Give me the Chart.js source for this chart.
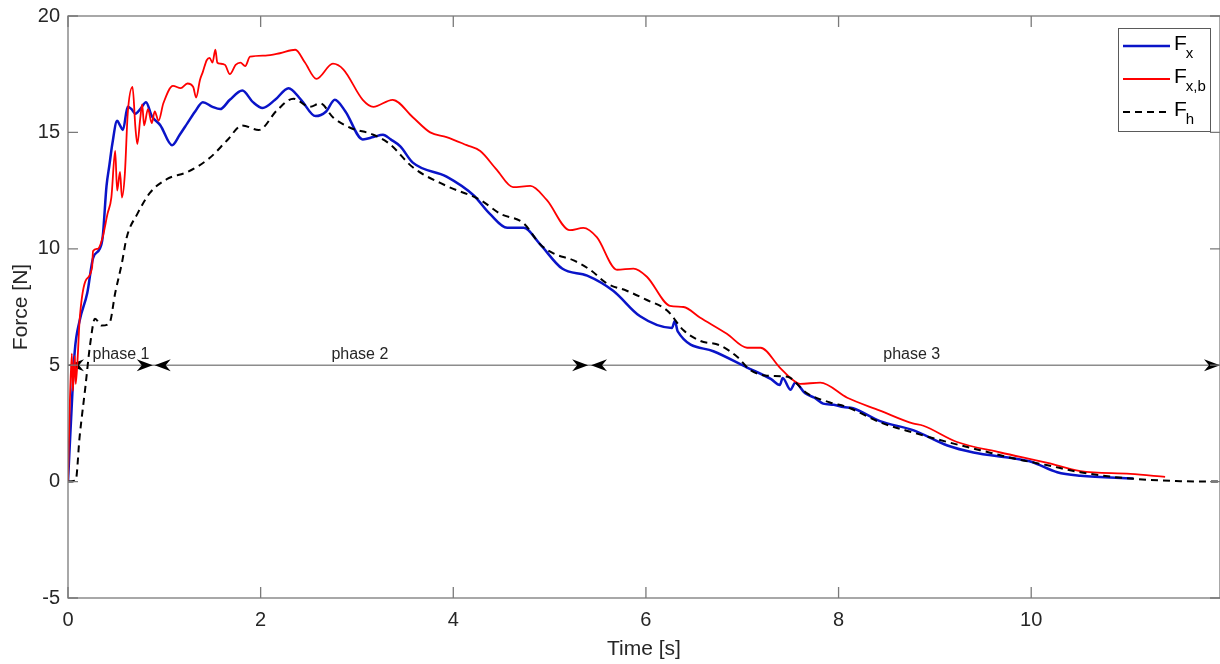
<!DOCTYPE html>
<html lang="en">
<head>
<meta charset="UTF-8">
<title>Force vs Time</title>
<script src="https://cdn.jsdelivr.net/npm/chart.js"></script>
<style>
  body { margin: 0; background: #fff; }
  #wrap { width: 1220px; height: 664px; }
</style>
</head>
<body>
<div id="wrap"><canvas id="forceChart" width="1220" height="664"></canvas></div>
<script>
  // values: time [s] and force [N]
  const tFx  = [0, 0.04, 0.07, 0.12, 0.20, 0.26, 0.33, 0.36, 0.40, 0.43, 0.46, 0.51, 0.54, 0.57, 0.62, 0.66, 0.70, 0.75, 0.81, 0.87,
                0.96, 1.08, 1.16, 1.24, 1.32, 1.40, 1.50, 1.58, 1.68, 1.81, 1.92, 2.02, 2.15, 2.29, 2.42, 2.57, 2.68, 2.77, 2.88, 3.06,
                3.17, 3.27, 3.35, 3.45, 3.58, 3.93, 4.21, 4.38, 4.56, 4.73, 4.90, 5.13, 5.39, 5.66, 5.94, 6.27, 6.30, 6.33, 6.70, 7.05,
                7.30, 7.39, 7.42, 7.50, 7.55, 7.65, 7.75, 7.84, 7.95, 8.05, 8.15, 8.43, 8.78, 9.13, 9.40, 9.81, 10.0, 10.27, 10.51, 11.06];
  const fFx  = [0, 3.35, 5.6, 6.9, 8.1, 9.6, 10.0, 10.5, 12.7, 13.6, 14.5, 15.5, 15.3, 15.1, 16.1, 16.0, 15.8, 16.0, 16.3, 15.7,
                15.3, 14.45, 14.9, 15.4, 15.9, 16.3, 16.1, 16.0, 16.4, 16.8, 16.3, 16.05, 16.4, 16.9, 16.4, 15.7, 15.9, 16.4, 15.9, 14.7,
                14.8, 14.9, 14.7, 14.4, 13.7, 13.1, 12.3, 11.5, 10.9, 10.9, 10.2, 9.15, 8.85, 8.2, 7.1, 6.6, 6.9, 6.45, 5.6, 4.9,
                4.4, 4.15, 4.45, 3.95, 4.25, 3.8, 3.6, 3.35, 3.3, 3.2, 3.15, 2.6, 2.2, 1.55, 1.25, 1.0, 0.85, 0.4, 0.25, 0.13];

  const tFxb = [0, 0.02, 0.04, 0.05, 0.07, 0.08, 0.10, 0.12, 0.18, 0.25, 0.26, 0.31, 0.36, 0.41, 0.45, 0.49, 0.51, 0.54, 0.56, 0.59,
                0.62, 0.67, 0.70, 0.72, 0.75, 0.77, 0.79, 0.83, 0.87, 0.90, 0.94, 0.99, 1.09, 1.17, 1.24, 1.30, 1.33, 1.37, 1.40, 1.44,
                1.47, 1.50, 1.53, 1.55, 1.58, 1.63, 1.68, 1.74, 1.79, 1.84, 1.89, 2.05, 2.20, 2.36, 2.46, 2.58, 2.75, 2.86, 3.06, 3.17,
                3.37, 3.58, 3.76, 3.93, 4.14, 4.28, 4.45, 4.62, 4.80, 4.97, 5.21, 5.35, 5.49, 5.70, 5.87, 6.01, 6.25, 6.39, 6.56, 6.84,
                7.05, 7.19, 7.39, 7.53, 7.60, 7.81, 8.09, 8.43, 8.77, 8.88, 9.23, 9.68, 10.17, 10.51, 11.03, 11.39];
  const fFxb = [0, 3.5, 5.5, 3.9, 5.4, 4.2, 5.3, 6.9, 8.6, 9.2, 9.9, 10.0, 10.5, 11.5, 12.2, 14.2, 12.5, 13.3, 12.2, 13.2,
                15.8, 16.95, 15.2, 14.5, 15.6, 16.2, 15.3, 16.0, 15.4, 15.9, 15.5, 16.25, 17.0, 16.9, 17.1, 16.95, 16.5, 17.25, 17.6, 18.1,
                18.2, 18.0, 18.55, 18.0, 17.95, 17.9, 17.5, 17.9, 18.0, 17.85, 18.25, 18.3, 18.4, 18.55, 18.0, 17.3, 17.95, 17.7, 16.4, 16.1,
                16.4, 15.65, 15.0, 14.8, 14.45, 14.2, 13.4, 12.65, 12.7, 12.1, 10.8, 10.9, 10.5, 9.1, 9.15, 8.8, 7.55, 7.5, 7.05, 6.35,
                5.75, 5.75, 4.9, 4.35, 4.2, 4.25, 3.6, 3.05, 2.5, 2.4, 1.7, 1.25, 0.8, 0.45, 0.33, 0.2];

  const tFh  = [0, 0.08, 0.12, 0.18, 0.23, 0.28, 0.35, 0.43, 0.49, 0.56, 0.61, 0.72, 0.85, 1.03, 1.24, 1.47, 1.65, 1.81, 1.98, 2.17,
                2.34, 2.51, 2.62, 2.75, 2.93, 3.17, 3.34, 3.58, 3.93, 4.28, 4.49, 4.73, 4.90, 5.04, 5.25, 5.42, 5.60, 5.80, 6.01, 6.22,
                6.39, 6.56, 6.77, 6.95, 7.08, 7.26, 7.47, 7.67, 7.91, 8.09, 8.43, 8.78, 9.13, 9.47, 9.81, 10.17, 10.51, 10.85, 11.20, 11.55, 11.96];
  const fFh  = [0, 0.05, 1.9, 4.05, 5.9, 7.0, 6.7, 6.8, 8.1, 9.4, 10.5, 11.5, 12.4, 13.0, 13.3, 13.9, 14.65, 15.3, 15.1, 15.95,
                16.45, 16.1, 16.25, 15.65, 15.2, 14.9, 14.5, 13.5, 12.7, 12.1, 11.5, 11.1, 10.2, 9.8, 9.5, 9.1, 8.5, 8.2, 7.8, 7.35,
                6.5, 6.05, 5.85, 5.35, 4.8, 4.55, 4.5, 3.8, 3.4, 3.2, 2.55, 2.1, 1.7, 1.35, 1.0, 0.7, 0.4, 0.2, 0.08, 0.02, 0];

  const xTickValues = [0, 2, 4, 6, 8, 10];
  const yTickValues = [-5, 0, 5, 10, 15, 20];

  const seriesMain = ['F', 'F', 'F'];
  const seriesSub = ['x', 'x,b', 'h'];

  // phase markers along F = 5
  const phaseNames = ['phase 1', 'phase 2', 'phase 3'];
  const phaseStart = [0, 0.90, 5.43];
  const phaseEnd = [0.88, 5.40, 11.96];
  const phaseLabelAt = [0.55, 3.03, 8.76];
  const phaseLevel = 5;

  const fontFam = '"Liberation Sans", Arial, Helvetica, sans-serif';
  const ink = '#262626';
  const axisGray = '#7a7a7a';

  const pairs = (t, f) => t.map((v, i) => ({ x: v, y: f[i] }));

  function arrowHead(ctx, x, y, dir) {
    const L = 16, W = 6, N = 5;
    ctx.beginPath();
    ctx.moveTo(x, y);
    ctx.lineTo(x - dir * L, y - W);
    ctx.lineTo(x - dir * (L - N), y);
    ctx.lineTo(x - dir * L, y + W);
    ctx.closePath();
    ctx.fill();
  }

  const phasePlugin = {
    id: 'phases',
    beforeDatasetsDraw(chart) {
      const { ctx, scales: { x, y } } = chart;
      const py = y.getPixelForValue(phaseLevel);
      ctx.save();
      ctx.strokeStyle = '#8c8c8c';
      ctx.lineWidth = 1.5;
      ctx.beginPath();
      ctx.moveTo(x.getPixelForValue(phaseStart[0]), py);
      ctx.lineTo(x.getPixelForValue(phaseEnd[phaseEnd.length - 1]), py);
      ctx.stroke();
      ctx.fillStyle = '#000';
      phaseNames.forEach((name, i) => {
        arrowHead(ctx, x.getPixelForValue(phaseStart[i]), py, -1);
        arrowHead(ctx, x.getPixelForValue(phaseEnd[i]), py, 1);
      });
      ctx.fillStyle = ink;
      ctx.font = '16px ' + fontFam;
      ctx.textAlign = 'center';
      ctx.textBaseline = 'alphabetic';
      phaseNames.forEach((name, i) => {
        ctx.fillText(name, x.getPixelForValue(phaseLabelAt[i]), py - 6);
      });
      ctx.restore();
    }
  };

  // box with inward ticks on all four sides, plus the legend
  const framePlugin = {
    id: 'frame',
    afterDatasetsDraw(chart) {
      const { ctx, chartArea: a, scales: { x, y } } = chart;
      ctx.save();
      ctx.strokeStyle = axisGray;
      ctx.lineWidth = 1.3;
      ctx.strokeRect(a.left, a.top, a.right - a.left, a.bottom - a.top);
      ctx.beginPath();
      x.ticks.forEach(t => {
        const px = x.getPixelForValue(t.value);
        ctx.moveTo(px, a.bottom); ctx.lineTo(px, a.bottom - 11);
        ctx.moveTo(px, a.top); ctx.lineTo(px, a.top + 11);
      });
      y.ticks.forEach(t => {
        const py = y.getPixelForValue(t.value);
        ctx.moveTo(a.left, py); ctx.lineTo(a.left + 10, py);
        ctx.moveTo(a.right, py); ctx.lineTo(a.right - 10, py);
      });
      ctx.stroke();

      // legend
      const bx = a.right - 102, by = a.top + 12, bw = 92, bh = 103;
      ctx.fillStyle = '#fff';
      ctx.fillRect(bx, by, bw, bh);
      ctx.strokeStyle = '#5a5a5a';
      ctx.lineWidth = 1;
      ctx.strokeRect(bx + 0.5, by + 0.5, bw, bh);
      chart.data.datasets.forEach((ds, i) => {
        const ry = by + 18 + i * 33;
        ctx.strokeStyle = ds.borderColor;
        ctx.lineWidth = ds.borderWidth;
        ctx.setLineDash(ds.borderDash || []);
        ctx.beginPath();
        ctx.moveTo(bx + 5, ry);
        ctx.lineTo(bx + 52, ry);
        ctx.stroke();
        ctx.setLineDash([]);
        ctx.fillStyle = '#000';
        ctx.textAlign = 'left';
        ctx.textBaseline = 'alphabetic';
        ctx.font = '21px ' + fontFam;
        ctx.fillText(seriesMain[i], bx + 56, ry + 4);
        const w = ctx.measureText(seriesMain[i]).width;
        ctx.font = '15px ' + fontFam;
        ctx.fillText(seriesSub[i], bx + 56 + w - 1, ry + 12);
      });
      ctx.restore();
    }
  };

  new Chart(document.getElementById('forceChart'), {
    type: 'scatter',
    data: {
      datasets: [
        { label: 'Fx', data: pairs(tFx, fFx), borderColor: '#0a14c8', borderWidth: 2.5, order: 2 },
        { label: 'Fx,b', data: pairs(tFxb, fFxb), borderColor: '#ff0000', borderWidth: 1.8, order: 1 },
        { label: 'Fh', data: pairs(tFh, fFh), borderColor: '#000000', borderWidth: 2, borderDash: [7, 5], order: 0 }
      ].map(d => Object.assign(d, { showLine: true, pointRadius: 0, cubicInterpolationMode: 'monotone', fill: false }))
    },
    options: {
      responsive: false,
      animation: false,
      layout: { padding: { top: 16, right: 0, left: 0, bottom: 0 } },
      plugins: { legend: { display: false }, tooltip: { enabled: false } },
      scales: {
        x: {
          type: 'linear', min: 0, max: 11.96,
          grid: { display: false, drawTicks: false }, border: { display: false },
          afterBuildTicks: s => { s.ticks = xTickValues.map(v => ({ value: v })); },
          afterFit: s => { s.height = 66; s.paddingLeft = 0; s.paddingRight = 0; },
          ticks: { color: ink, font: { family: fontFam, size: 20 }, padding: 10, maxRotation: 0 },
          title: { display: true, text: 'Time [s]', color: ink, font: { family: fontFam, size: 21 }, padding: { top: 0, bottom: 2 } }
        },
        y: {
          type: 'linear', min: -5, max: 20,
          grid: { display: false, drawTicks: false }, border: { display: false },
          afterBuildTicks: s => { s.ticks = yTickValues.map(v => ({ value: v })); },
          afterFit: s => { s.width = 68; s.paddingTop = 0; s.paddingBottom = 0; },
          ticks: { color: ink, font: { family: fontFam, size: 20 }, padding: 8 },
          title: { display: true, text: 'Force [N]', color: ink, font: { family: fontFam, size: 21 }, padding: { top: 9, bottom: 0 } }
        }
      }
    },
    plugins: [phasePlugin, framePlugin]
  });
</script>
</body>
</html>
